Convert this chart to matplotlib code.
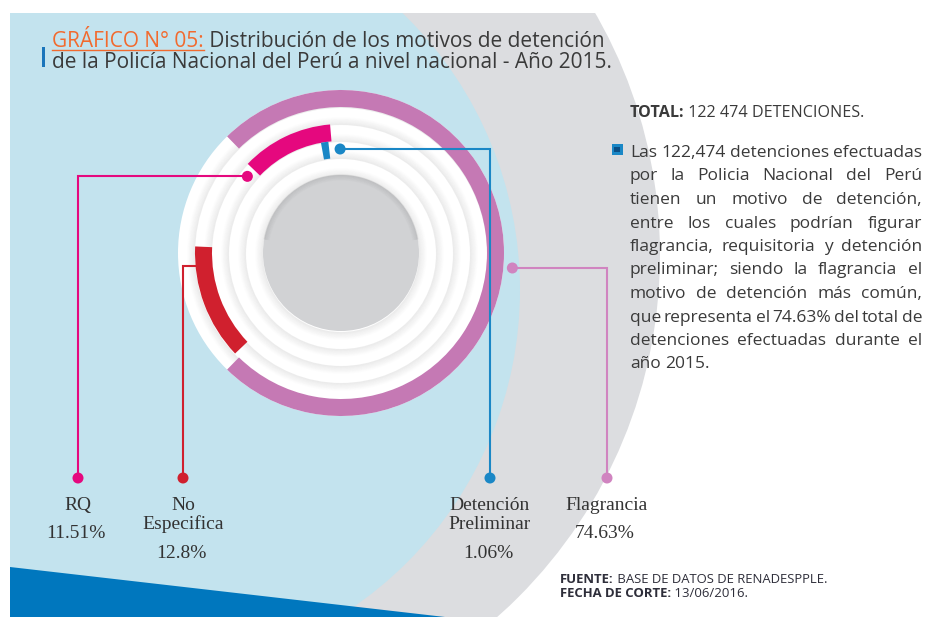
import numpy as np
import matplotlib.pyplot as plt
from matplotlib.patches import Rectangle, Circle, Wedge, Polygon, Arc

# --- DATOS ---
categorias = ['RQ', 'No\nEspecifica', 'Detención\nPreliminar', 'Flagrancia']
porcentajes = [11.51, 12.8, 1.06, 74.63]
etiquetas_pct = ['11.51%', '12.8%', '1.06%', '74.63%']

titulo_naranja = 'GRÁFICO N° 05:'
titulo_resto = ' Distribución de los motivos de detención'
titulo_linea2 = 'de la Policía Nacional del Perú a nivel nacional - Año 2015.'

total_negrita = 'TOTAL:'
total_texto = ' 122 474 DETENCIONES.'
parrafo = [
    'Las 122,474 detenciones efectuadas',
    'por la Policia Nacional del Perú',
    'tienen un motivo de detención,',
    'entre los cuales podrían figurar',
    'flagrancia, requisitoria y detención',
    'preliminar; siendo la flagrancia el',
    'motivo de detención más común,',
    'que representa el 74.63% del total de',
    'detenciones efectuadas durante el',
    'año 2015.',
]
fuente = [('FUENTE:', ' BASE DE DATOS DE RENADESPPLE.'),
          ('FECHA DE CORTE:', ' 13/06/2016.')]

# --- ESTILO / POSICIONES ---
col_arco = ['#e5087e', '#d0202e', '#1a87c6', '#c579b4']
col_linea = ['#e5087e', '#d0202e', '#1a87c6', '#d084c0']
anillo = [3, 4, 2, 5]                 # anillo donde va cada arco
ancla = [('fin', 136.3), ('fin', 223.5), ('ini', 96.5), ('centro', 0.0)]
punto_ang = [140.7, 185.4, 90.5, -5.0]
punto_r = [121, 138, 104, 172]
label_x = [78, 183, 490, 607]

cx, cy = 341, 253
radios = [78, 95, 112, 129, 146, 163]
y_punto_bajo = 478

gris_txt = '#3a3a3a'
sans = ['Open Sans', 'DejaVu Sans']
serif = ['Liberation Serif', 'DejaVu Serif']

fig = plt.figure(figsize=(9.28, 6.17), dpi=100)
ax = fig.add_axes([0, 0, 1, 1])
ax.set_xlim(0, 928)
ax.set_ylim(617, 0)
ax.axis('off')
renderer = fig.canvas.get_renderer()


def pxy(ang, r):
    a = np.radians(ang)
    return cx + r * np.cos(a), cy - r * np.sin(a)


def arco(a1, a2, r_out, width, color, z):
    # angulos "visuales" (y hacia arriba); el eje y esta invertido
    w = Wedge((cx, cy), r_out, -a2, -a1, width=width, facecolor=color,
              edgecolor='none', zorder=z)
    ax.add_patch(w)


def ancho(t):
    return t.get_window_extent(renderer).width


def ajustar(texto, objetivo, fs0=10, **kw):
    # tamaño de letra para que el texto ocupe 'objetivo' px
    t = ax.text(0, 0, texto, fontsize=fs0, **kw)
    w = ancho(t)
    t.remove()
    return fs0 * objetivo / w


# --- FONDO ---
panel = Rectangle((10, 13), 918, 604, facecolor='none', edgecolor='none')
ax.add_patch(panel)
gris = Circle((176, 255), 484, facecolor='#dcdde0', edgecolor='none', zorder=0)
ax.add_patch(gris)
gris.set_clip_path(panel)
celeste = Circle((135, 290), 385, facecolor='#c3e3ee', edgecolor='none', zorder=1)
ax.add_patch(celeste)
celeste.set_clip_path(panel)
banda = Polygon([(10, 567), (445, 617), (10, 617)], closed=True,
                facecolor='#0077be', edgecolor='none', zorder=2)
ax.add_patch(banda)

# --- ANILLOS BLANCOS CON SOMBRA ---
ax.add_patch(Circle((cx, cy), radios[-1], facecolor='white', edgecolor='none', zorder=3))
for r in radios[:-1]:
    for i in range(8):
        ax.add_patch(Circle((cx, cy + 1.0), r + i + 0.5, fill=False,
                            edgecolor='black', lw=0.8,
                            alpha=0.07 * (1 - i / 8), zorder=4))
ax.add_patch(Circle((cx, cy), radios[0], facecolor='#d1d2d4', edgecolor='none', zorder=5))
for i in range(6):
    ax.add_patch(Arc((cx, cy), 2 * (radios[0] - i), 2 * (radios[0] - i),
                     theta1=190, theta2=350, edgecolor='black', lw=0.9,
                     alpha=0.07 * (1 - i / 6), zorder=5.5))

# --- ARCOS (desde los porcentajes) ---
for k, v in enumerate(porcentajes):
    span = v * 3.6
    modo, a = ancla[k]
    if modo == 'fin':
        a1, a2 = a - span, a
    elif modo == 'ini':
        a1, a2 = a, a + span
    else:
        a1, a2 = a - span / 2, a + span / 2
    n = anillo[k]
    arco(a1, a2, radios[n], radios[n] - radios[n - 1], col_arco[k], 6)

# --- CONECTORES ---
for k in range(len(categorias)):
    x0, y0 = pxy(punto_ang[k], punto_r[k])
    xl = label_x[k]
    ax.plot([x0, xl, xl], [y0, y0, y_punto_bajo], color=col_linea[k],
            lw=1.5, solid_joinstyle='miter', zorder=7)
    ax.add_patch(Circle((x0, y0), 5.5, facecolor=col_linea[k], edgecolor='none',
                        zorder=8))
    ax.add_patch(Circle((xl, y_punto_bajo), 5.5, facecolor=col_linea[k],
                        edgecolor='none', zorder=8))

# --- ETIQUETAS ---
for k, cat in enumerate(categorias):
    lineas = cat.split('\n')
    for j, ln in enumerate(lineas):
        ax.text(label_x[k], 510 + 19 * j, ln, ha='center', va='baseline',
                fontsize=14, family=serif, color='#333333', zorder=9)
    y_pct = 538 if len(lineas) == 1 else 558
    ax.text(label_x[k] - 2, y_pct, etiquetas_pct[k], ha='center', va='baseline',
            fontsize=14, family=serif, color='#333333', zorder=9)

# --- TITULO ---
fs_tit = ajustar(titulo_naranja + titulo_resto, 553, family=sans)
t1 = ax.text(52, 47, titulo_naranja, fontsize=fs_tit, family=sans, color='#f26a2e',
             va='baseline', ha='left', zorder=9)
w1 = ancho(t1)
ax.plot([52, 52 + w1], [49.5, 49.5], color='#f26a2e', lw=1.0, zorder=9)
ax.text(52 + w1, 47, titulo_resto, fontsize=fs_tit, family=sans, color=gris_txt,
        va='baseline', ha='left', zorder=9)
ax.text(52, 68, titulo_linea2, fontsize=fs_tit, family=sans, color=gris_txt,
        va='baseline', ha='left', zorder=9)
ax.add_patch(Rectangle((42, 47), 3, 20, facecolor='#1a75bb', edgecolor='none', zorder=9))

# --- TEXTO DERECHO ---
fs_tot = ajustar(total_negrita + total_texto, 233, family=sans)
tb = ax.text(630, 117, total_negrita, fontsize=fs_tot, family=sans, fontweight='bold',
             color=gris_txt, va='baseline', ha='left')
ax.text(630 + ancho(tb), 117, total_texto, fontsize=fs_tot, family=sans, color=gris_txt,
        va='baseline', ha='left')

ax.add_patch(Rectangle((612, 144), 11, 11, facecolor='#1a87c6', edgecolor='none'))
ax.add_patch(Rectangle((614.5, 146.5), 6, 5, facecolor='#0b4f86', edgecolor='none'))

x_izq, x_der = 630, 922
y0p, paso = 157, 23.5
fs_par = ajustar(parrafo[0], x_der - x_izq, family=sans)
for i, ln in enumerate(parrafo):
    y = y0p + paso * i
    palabras = ln.split(' ')
    objs = [ax.text(0, y, p, fontsize=fs_par, family=sans, color=gris_txt,
                    va='baseline', ha='left') for p in palabras]
    anchos = [ancho(o) for o in objs]
    if i == len(parrafo) - 1:
        esp = 4.0
    else:
        esp = (x_der - x_izq - sum(anchos)) / (len(palabras) - 1)
    x = x_izq
    for o, w in zip(objs, anchos):
        o.set_x(x)
        x += w + esp

fs_fue = ajustar(fuente[0][0] + fuente[0][1], 267, family=sans)
for j, (neg, resto) in enumerate(fuente):
    y = 583 + 14 * j
    tn = ax.text(560, y, neg, fontsize=fs_fue, family=sans, fontweight='bold',
                 color='#2e2e3a', va='baseline', ha='left')
    ax.text(560 + ancho(tn), y, resto, fontsize=fs_fue, family=sans, color='#2e2e3a',
            va='baseline', ha='left')

fig.savefig('out.png', dpi=100)
